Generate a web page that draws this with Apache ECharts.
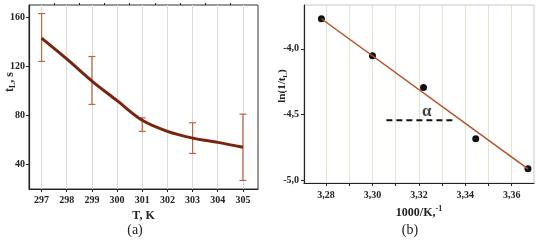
<!DOCTYPE html>
<html>
<head>
<meta charset="utf-8">
<script src="https://cdn.jsdelivr.net/npm/echarts@6/dist/echarts.min.js"></script>
<style>
  html, body { margin: 0; padding: 0; background: #fff; }
  #chart { width: 550px; height: 245px; }
</style>
</head>
<body>
<div id="chart"></div>
<script>
// panel (a): lifetime vs temperature
const tempK = [297, 298, 299, 300, 301, 302, 303, 304, 305];
const tL = [143, 126, 108, 92, 76, 67, 61.5, 58, 54];
const errT = [297, 299, 301, 303, 305];
const errLow = [124, 89, 67, 49, 27];
const errHigh = [163, 128, 78, 74, 81];
const tTicks = [297, 298, 299, 300, 301, 302, 303, 304, 305];
const tMinorTicks = [297.5, 298.5, 299.5, 300.5, 301.5, 302.5, 303.5, 304.5];
const tLTicks = [40, 80, 120, 160];

// panel (b): Arrhenius plot
const invT = [3.278, 3.300, 3.322, 3.3445, 3.367];
const lnInv = [-3.77, -4.053, -4.295, -4.685, -4.914];
const fitX = [3.278, 3.367];
const fitY = [-3.77, -4.915];
const alphaX = [3.306, 3.3356];
const alphaY = -4.544;
const invTTicks = [3.28, 3.29, 3.30, 3.31, 3.32, 3.33, 3.34, 3.35, 3.36];
const invTLabels = [3.28, 3.30, 3.32, 3.34, 3.36];
const lnTicks = [-5.0, -4.5, -4.0];

const serif = "'Liberation Serif', 'DejaVu Serif', serif";
const comma = (v, d) => v.toFixed(d).replace('.', ',');
const tickFont = { fontFamily: serif, fontWeight: 'bold', fontSize: 10, color: '#222' };

const chart = echarts.init(document.getElementById('chart'));

const errStyle = { stroke: '#b8673f', lineWidth: 1.2 };

const option = {
  animation: false,
  grid: [
    { left: 29, right: 292, top: 5, bottom: 56, show: true, borderColor: '#333', borderWidth: 1 },
    { left: 304, right: 16, top: 5, bottom: 62, show: true, borderColor: '#c8c8c8', borderWidth: 1 }
  ],
  xAxis: [
    {
      gridIndex: 0, type: 'value', min: 296.5, max: 305.6,
      name: 'T, K', nameLocation: 'middle', nameGap: 17,
      nameTextStyle: { fontFamily: serif, fontWeight: 'bold', fontSize: 12, color: '#222' },
      axisLine: { lineStyle: { color: '#222', width: 1.2 } },
      axisTick: { show: true, length: 3, customValues: tTicks, lineStyle: { color: '#222' } },
      axisLabel: Object.assign({ customValues: tTicks, margin: 6 }, tickFont),
      splitLine: { show: true, lineStyle: { color: '#d9d9d9', width: 1 } }
    },
    {
      gridIndex: 1, type: 'value', min: 3.2705, max: 3.3696,
      name: '1000/K,{sup|-1}', nameLocation: 'middle', nameGap: 21,
      nameTextStyle: {
        fontFamily: serif, fontWeight: 'bold', fontSize: 12, color: '#222',
        rich: { sup: { fontFamily: serif, fontWeight: 'bold', fontSize: 8, color: '#222', padding: [0, 0, 8, 0] } }
      },
      axisLine: { lineStyle: { color: '#222', width: 1.2 } },
      axisTick: { show: true, length: 3, customValues: invTTicks, lineStyle: { color: '#222' } },
      axisLabel: Object.assign({ customValues: invTLabels, margin: 7, formatter: v => comma(v, 2) }, tickFont),
      splitLine: { show: true, lineStyle: { color: '#d8ebcc', width: 1 } }
    },
    {
      // minor ticks for panel (a)
      gridIndex: 0, type: 'value', min: 296.5, max: 305.6,
      axisLine: { show: false },
      axisTick: { show: true, length: 2, customValues: tMinorTicks, lineStyle: { color: '#222' } },
      axisLabel: { show: false },
      splitLine: { show: false }
    }
  ],
  yAxis: [
    {
      gridIndex: 0, type: 'value', min: 20, max: 170,
      axisLine: { show: true, lineStyle: { color: '#222', width: 1.2 } },
      axisTick: { show: true, length: 3, customValues: tLTicks, lineStyle: { color: '#222' } },
      axisLabel: Object.assign({ customValues: tLTicks, margin: 4 }, tickFont),
      splitLine: { show: false }
    },
    {
      gridIndex: 1, type: 'value', min: -5.023, max: -3.665,
      axisLine: { show: true, lineStyle: { color: '#222', width: 1.2 } },
      axisTick: { show: true, length: 3, customValues: lnTicks, lineStyle: { color: '#222' } },
      axisLabel: Object.assign({ customValues: lnTicks, margin: 5, formatter: v => comma(v, 1) }, tickFont),
      splitLine: { show: false }
    }
  ],
  graphic: [
    {
      type: 'text', x: 10, y: 82, rotation: Math.PI / 2,
      style: {
        text: '{b|t}{s|L}{b|, s}', align: 'center', verticalAlign: 'middle',
        rich: {
          b: { fontFamily: serif, fontWeight: 'bold', fontSize: 12, fill: '#222' },
          s: { fontFamily: serif, fontWeight: 'bold', fontSize: 8, fill: '#222', padding: [6, 0, 0, 0] }
        }
      }
    },
    {
      type: 'text', x: 282, y: 86, rotation: Math.PI / 2,
      style: {
        text: '{b|ln(1/t}{s|L}{b|)}', align: 'center', verticalAlign: 'middle',
        rich: {
          b: { fontFamily: serif, fontWeight: 'bold', fontSize: 11, fill: '#222' },
          s: { fontFamily: serif, fontWeight: 'bold', fontSize: 7, fill: '#222', padding: [6, 0, 0, 0] }
        }
      }
    },
    {
      type: 'text', x: 135, y: 230,
      style: { text: '(a)', align: 'center', verticalAlign: 'middle', fontFamily: serif, fontSize: 14, fill: '#222' }
    },
    {
      type: 'text', x: 410, y: 230,
      style: { text: '(b)', align: 'center', verticalAlign: 'middle', fontFamily: serif, fontSize: 14, fill: '#222' }
    }
  ],
  series: [
    {
      type: 'custom', xAxisIndex: 0, yAxisIndex: 0,
      data: errT.map((t, i) => [t, errLow[i], errHigh[i]]),
      encode: { x: 0, y: [1, 2] },
      renderItem: (params, api) => {
        const x = api.value(0);
        const lo = api.coord([x, api.value(1)]);
        const hi = api.coord([x, api.value(2)]);
        const w = 3.5;
        return {
          type: 'group',
          children: [
            { type: 'line', shape: { x1: lo[0], y1: lo[1], x2: hi[0], y2: hi[1] }, style: errStyle },
            { type: 'line', shape: { x1: lo[0] - w, y1: lo[1], x2: lo[0] + w, y2: lo[1] }, style: errStyle },
            { type: 'line', shape: { x1: hi[0] - w, y1: hi[1], x2: hi[0] + w, y2: hi[1] }, style: errStyle }
          ]
        };
      }
    },
    {
      type: 'line', xAxisIndex: 0, yAxisIndex: 0,
      data: tempK.map((t, i) => [t, tL[i]]),
      smooth: 0.3, symbol: 'none',
      lineStyle: { color: '#7a2410', width: 3 }
    },
    {
      type: 'line', xAxisIndex: 1, yAxisIndex: 1,
      data: fitX.map((x, i) => [x, fitY[i]]),
      symbol: 'none',
      lineStyle: { color: '#b4502a', width: 1.5 }
    },
    {
      type: 'scatter', xAxisIndex: 1, yAxisIndex: 1,
      data: invT.map((x, i) => [x, lnInv[i]]),
      symbolSize: 7,
      itemStyle: { color: '#111', opacity: 1 }
    },
    {
      type: 'line', xAxisIndex: 1, yAxisIndex: 1,
      data: alphaX.map(x => [x, alphaY]),
      symbol: 'none',
      lineStyle: { color: '#111', width: 2, type: [6, 4] }
    },
    {
      type: 'scatter', xAxisIndex: 1, yAxisIndex: 1,
      data: [[3.3234, alphaY]],
      symbolSize: 0,
      label: {
        show: true, position: 'top', distance: 0, formatter: 'α',
        fontFamily: serif, fontSize: 17, fontWeight: 'bold', color: '#111'
      }
    }
  ]
};

chart.setOption(option);
</script>
</body>
</html>
